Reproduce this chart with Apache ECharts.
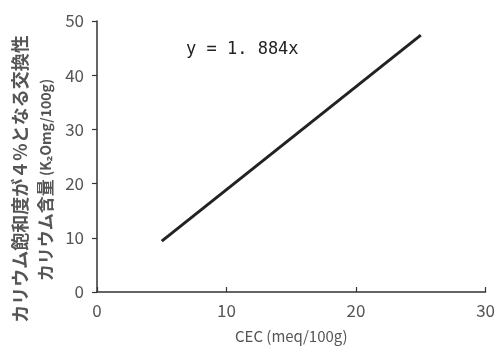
<!DOCTYPE html>
<html><head><meta charset="utf-8">
<script src="https://cdn.jsdelivr.net/npm/echarts@6/dist/echarts.min.js"></script>
<style>html,body{margin:0;padding:0;background:#fff}#c{width:498px;height:349px}</style>
</head><body><div id="c"></div>
<script>
const cecValues = [5, 25];
const potassiumValues = [9.4, 47.4];
const xTicks = [0, 10, 20, 30];
const yTicks = [0, 10, 20, 30, 40, 50];
const equationText = 'y = 1. 884x';
const xAxisTitle = 'CEC (meq/100g)';
const yAxisTitle1 = 'カリウム飽和度が４%となる交換性';
const yAxisTitle2a = 'カリウム含量';
const yAxisTitle2b = ' (K₂Omg/100g)';

const font = '"Noto Sans CJK JP", "Noto Sans", sans-serif';
const chart = echarts.init(document.getElementById('c'), null, {renderer: 'canvas'});
chart.setOption({
  animation: false,
  backgroundColor: '#fff',
  grid: {left: 97, right: 9, top: 21, bottom: 57},
  xAxis: {
    type: 'value', min: xTicks[0], max: xTicks[xTicks.length-1], interval: 10,
    axisLine: {lineStyle: {color: '#333', width: 1.5}},
    axisTick: {show: true, inside: true, length: 5, lineStyle: {color: '#333', width: 1.2}},
    axisLabel: {color: '#555', fontSize: 17, fontFamily: font, margin: 10},
    splitLine: {show: false},
    name: xAxisTitle, nameLocation: 'middle', nameGap: 37,
    nameTextStyle: {color: '#555', fontSize: 15, fontFamily: font}
  },
  yAxis: {
    type: 'value', min: yTicks[0], max: yTicks[yTicks.length-1], interval: 10,
    axisLine: {show: true, lineStyle: {color: '#333', width: 1.5}},
    axisTick: {show: true, length: 5, lineStyle: {color: '#333', width: 1.2}},
    axisLabel: {color: '#555', fontSize: 17, fontFamily: font, margin: 13},
    splitLine: {show: false}
  },
  graphic: [
    {type: 'text', left: 186, top: 41, style: {text: equationText, fill: '#222', font: '500 17px "DejaVu Sans Mono", monospace'}},
    {type: 'text', x: 20, y: 179, rotation: Math.PI/2, style: {text: yAxisTitle1, fill: '#555', font: 'bold 18px ' + font, textAlign: 'center', textVerticalAlign: 'middle'}},
    {type: 'text', x: 46, y: 180, rotation: Math.PI/2, style: {
      text: '{a|' + yAxisTitle2a + '}{b|' + yAxisTitle2b + '}',
      textAlign: 'center', textVerticalAlign: 'middle',
      rich: {
        a: {fill: '#555', font: 'bold 17px ' + font},
        b: {fill: '#555', font: 'bold 14px ' + font}
      }
    }}
  ],
  series: [{
    type: 'line',
    data: cecValues.map((x, i) => [x, potassiumValues[i]]),
    symbol: 'none',
    lineStyle: {color: '#222', width: 3}
  }]
});
</script></body></html>
